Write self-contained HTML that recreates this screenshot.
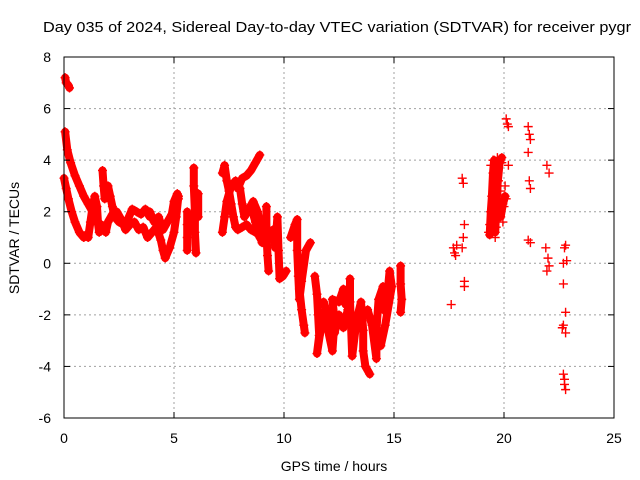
<!DOCTYPE html>
<html><head><meta charset="utf-8"><style>
body{margin:0;background:#fff;}
svg{display:block;font-family:"Liberation Sans",sans-serif;}
</style></head><body>
<svg id="chart" width="640" height="480" viewBox="0 0 640 480">
<rect width="640" height="480" fill="#fff"/>
<text x="43" y="32" font-size="15" textLength="588" lengthAdjust="spacingAndGlyphs" fill="#000">Day 035 of 2024, Sidereal Day-to-day VTEC variation (SDTVAR) for receiver pygr</text>
<g id="grid"></g>
<g id="marks"></g>
<rect x="64" y="57" width="550" height="361" fill="none" stroke="#000" stroke-width="1"/>
<g id="axes"></g>
<text x="334" y="471" font-size="14" text-anchor="middle">GPS time / hours</text>
<text transform="translate(19,238) rotate(-90)" font-size="14" text-anchor="middle">SDTVAR / TECUs</text>
</svg>
<script>
const xTicks=[0,5,10,15,20,25];
const yTicks=[-6,-4,-2,0,2,4,6,8];
const tracks=[
[[0.05,7.2],[0.1,7.0],[0.2,6.9],[0.25,6.8]],
[[0.05,5.1],[0.15,4.4],[0.3,3.9],[0.5,3.4],[0.7,3.0],[0.9,2.6],[1.1,2.3],[1.3,2.0],[1.5,1.8]],
[[0.0,3.3],[0.1,2.9],[0.2,2.5],[0.35,2.0],[0.5,1.6],[0.7,1.2],[0.9,1.0],[1.0,1.1]],
[[1.1,1.0],[1.2,1.6],[1.3,2.2],[1.4,2.6],[1.5,2.2],[1.55,1.5],[1.6,1.2],[1.7,1.5]],
[[1.75,3.6],[1.8,3.0],[1.85,2.5],[2.0,3.0],[2.1,2.6],[2.2,2.2],[2.3,1.8],[2.5,1.6],[2.7,1.5],[2.9,1.7],[3.1,2.1],[3.3,2.0],[3.5,1.9],[3.7,2.1],[3.9,1.8]],
[[1.9,1.2],[2.0,1.6],[2.2,1.9],[2.4,2.0],[2.6,1.7],[2.8,1.3],[3.0,1.5],[3.2,1.6],[3.4,1.3],[3.6,1.4],[3.8,1.0],[4.0,1.2],[4.2,1.4],[4.4,0.9],[4.5,0.5],[4.6,0.2],[4.8,0.6],[5.0,1.2],[5.1,1.8],[5.2,2.6]],
[[3.9,2.0],[4.1,1.6],[4.3,1.8],[4.5,1.3],[4.7,1.6],[4.9,1.9],[5.0,2.4],[5.15,2.7],[5.2,2.5]],
[[5.6,2.0],[5.6,1.5],[5.6,1.0],[5.6,0.5]],
[[5.9,3.7],[5.9,3.0],[5.95,2.0],[5.95,1.2],[6.0,0.4]],
[[6.1,2.7],[6.1,1.8]],
[[7.2,3.5],[7.3,3.8],[7.4,3.2],[7.5,2.8],[7.6,2.3],[7.7,1.8],[7.8,1.4],[7.9,1.3],[8.1,1.4],[8.3,1.5],[8.5,1.3],[8.7,1.2],[8.9,1.1],[9.0,0.8],[9.2,1.0]],
[[7.2,1.2],[7.3,1.8],[7.4,2.4],[7.6,3.0],[7.8,3.2],[8.0,2.9],[8.1,2.3],[8.2,1.8],[8.4,2.1],[8.6,2.4],[8.8,2.0],[8.9,1.6],[9.0,1.2]],
[[7.9,2.9],[8.1,3.3],[8.3,3.4],[8.5,3.6],[8.7,3.9],[8.9,4.2]],
[[8.5,2.2],[8.7,1.6],[8.9,1.0],[9.05,0.8]],
[[9.2,2.2],[9.2,1.2],[9.25,0.3],[9.3,-0.3]],
[[9.5,1.3],[9.6,0.6],[9.7,1.8],[9.75,0.5],[9.8,-0.6],[9.95,-0.5],[10.1,-0.3]],
[[10.3,1.0],[10.5,1.5],[10.6,1.7],[10.6,0.5],[10.65,-0.5],[10.7,-1.4],[10.8,-0.7],[11.0,0.5],[11.2,0.8]],
[[10.7,-1.0],[10.8,-1.8],[10.9,-2.4],[10.95,-2.7]],
[[11.4,-0.5],[11.5,-1.2],[11.55,-2.0],[11.6,-2.8],[11.5,-3.5],[11.7,-2.4],[11.9,-1.8],[12.0,-2.6],[12.2,-3.4],[12.3,-2.2],[12.2,-1.4],[12.5,-1.5],[12.7,-1.0],[12.8,-1.6]],
[[11.8,-1.5],[12.0,-2.0],[12.3,-2.7],[12.5,-2.0],[12.7,-2.5],[12.9,-1.8]],
[[13.0,-0.6],[13.0,-1.5],[13.05,-2.5],[13.1,-3.6],[13.3,-2.2],[13.5,-1.5],[13.6,-2.6],[13.6,-3.4],[13.7,-4.0],[13.9,-4.3]],
[[13.8,-1.8],[14.0,-2.4],[14.2,-3.7],[14.2,-2.6],[14.3,-1.4],[14.5,-0.9],[14.5,-1.8],[14.7,-1.2],[14.8,-0.3],[14.9,-0.9],[14.6,-2.4],[14.4,-3.2]],
[[15.3,-0.1],[15.3,-0.8],[15.35,-1.4],[15.3,-1.9]],
[[19.35,1.1],[19.4,2.0],[19.45,2.6],[19.5,3.5],[19.55,4.0]],
[[19.6,1.2],[19.65,2.2],[19.7,3.0],[19.8,3.9],[19.9,4.1]],
[[19.75,2.4],[19.85,1.8],[19.95,2.3],[20.05,2.6]]
];
const scatterT=[17.7,17.8,17.85,17.6,17.75,18.1,18.15,18.2,18.15,18.1,18.2,18.2,19.3,19.4,19.5,19.5,19.6,19.7,19.8,19.9,19.4,19.6,20.0,20.1,19.9,19.5,19.7,19.35,19.45,19.55,19.65,19.75,19.85,19.95,20.05,20.1,20.2,20.15,20.2,21.1,21.15,21.2,21.1,21.15,21.2,21.1,21.2,21.95,22.05,21.9,22.0,21.95,22.05,22.8,22.75,22.7,22.7,22.8,22.7,22.8,22.7,22.75,22.8,22.85,22.65,22.75];
const scatterV=[0.6,0.3,0.7,-1.6,0.4,3.3,3.1,1.5,1.0,0.6,-0.7,-0.9,1.2,2.0,3.0,4.0,3.4,2.5,1.8,3.9,3.8,1.0,2.2,2.5,2.2,2.2,4.1,1.5,2.6,3.6,1.4,3.2,2.8,1.6,3.0,5.6,5.3,5.4,3.8,5.3,5.0,4.8,4.3,3.2,2.9,0.9,0.8,3.8,3.5,0.6,0.2,-0.3,-0.1,0.7,0.6,0.0,-0.8,-1.9,-2.4,-2.7,-4.3,-4.7,-4.9,0.1,-2.5,-4.5];
const L=64,R=614,T=57,B=418;
const xs=t=>L+(t-0)/25*(R-L);
const ys=v=>B-(v+6)/14*(B-T);
const NS='http://www.w3.org/2000/svg';
function mk(tag,attrs,parent){const e=document.createElementNS(NS,tag);for(const k in attrs)e.setAttribute(k,attrs[k]);parent.appendChild(e);return e;}
const grid=document.getElementById('grid'),axes=document.getElementById('axes'),marks=document.getElementById('marks');
xTicks.forEach(t=>{const x=xs(t);
 if(t>0&&t<25){const g=mk('line',{x1:x,y1:T,x2:x,y2:B,stroke:'#a0a0a0','stroke-dasharray':'2,3'},grid);
 
 }
 mk('line',{x1:x,y1:B,x2:x,y2:B-6,stroke:'#000'},axes);mk('line',{x1:x,y1:T,x2:x,y2:T+6,stroke:'#000'},axes);
 const lb=mk('text',{x:x,y:443,'font-size':14,'text-anchor':'middle'},axes);lb.textContent=t;
 
 });
yTicks.forEach(v=>{const y=ys(v);
 if(v>-6&&v<8){const g=mk('line',{x1:L,y1:y,x2:R,y2:y,stroke:'#a0a0a0','stroke-dasharray':'2,3'},grid);
 
 }
 mk('line',{x1:L,y1:y,x2:L+6,y2:y,stroke:'#000'},axes);mk('line',{x1:R,y1:y,x2:R-6,y2:y,stroke:'#000'},axes);
 const lb=mk('text',{x:51,y:y+5,'font-size':14,'text-anchor':'end'},axes);lb.textContent=v;
 
 });
function plus(t,v){const x=xs(t),y=ys(v);
 const p=mk('path',{d:`M${x-4.5},${y}h9M${x},${y-4.5}v9`,stroke:'#f00','stroke-width':1.4},marks);
 
 }
tracks.forEach(tr=>{
 const pl=mk('polyline',{points:tr.map(p=>xs(p[0])+','+ys(p[1])).join(' '),fill:'none',stroke:'#f00','stroke-width':8,'stroke-linejoin':'round','stroke-linecap':'round'},marks);
 
 
 tr.forEach(p=>plus(p[0],p[1]));});
scatterT.forEach((t,i)=>plus(t,scatterV[i]));
</script>
</body></html>
